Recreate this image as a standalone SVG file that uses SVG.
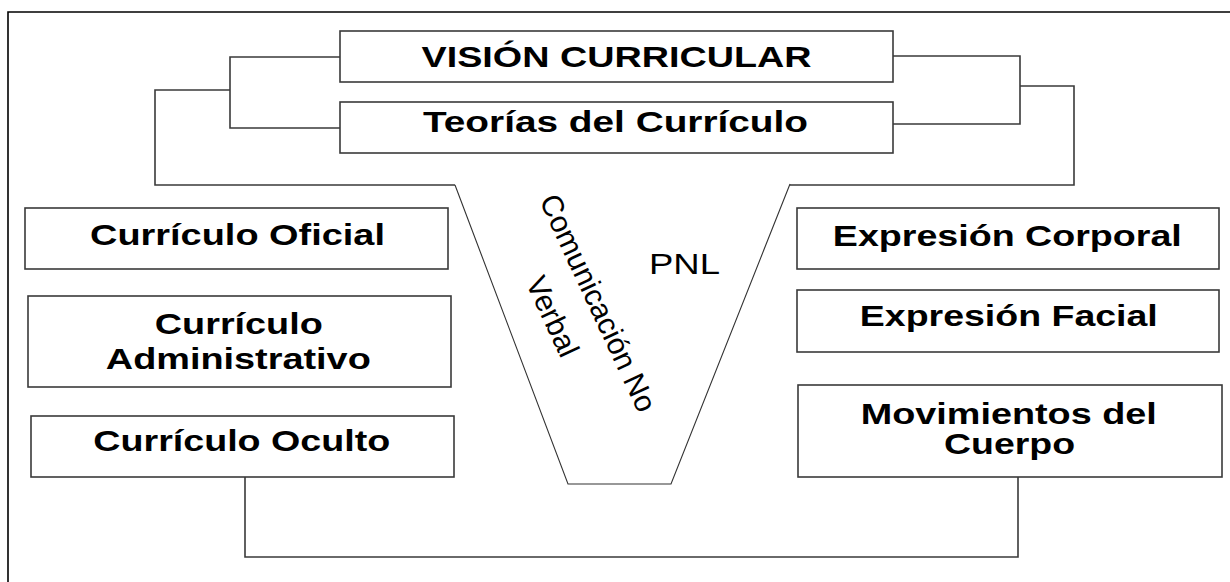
<svg xmlns="http://www.w3.org/2000/svg" width="1230" height="582" viewBox="0 0 1230 582">
<style>
.box{fill:#fff;stroke:#3a3a3a;stroke-width:1.6}
.t{font-family:"Liberation Sans",Arial,sans-serif;font-size:30px;font-weight:bold;fill:#000;text-anchor:middle}
.r{font-family:"Liberation Sans",Arial,sans-serif;font-size:30px;fill:#000;text-anchor:middle}
.c{fill:none;stroke:#3a3a3a;stroke-width:1.6}
.v{fill:none;stroke:#333;stroke-width:1.1}
</style>
<rect width="1230" height="582" fill="#fff"/>
<path d="M8,582 V12 H1230" fill="none" stroke="#000" stroke-width="1.6"/>
<g id="connectors">
<path class="c" d="M340,57 H230 V128 H340"/>
<path class="c" d="M230,90 H155 V185 H455"/>
<path class="c" d="M893,56 H1020 V124 H893"/>
<path class="c" d="M1020,86 H1074 V185 H790"/>
<path class="v" d="M455,185 L568,484 H671 L790,184"/>
<path class="c" d="M245,477 V557 H1018 V477"/>
</g>
<g id="vision">
<rect class="box" x="340" y="31" width="553" height="51"/>
<text class="t" x="616.5" y="66.5" textLength="390" lengthAdjust="spacingAndGlyphs">VISIÓN CURRICULAR</text>
</g>
<g id="teorias">
<rect class="box" x="340" y="102" width="553" height="51"/>
<text class="t" x="615.5" y="132" textLength="385" lengthAdjust="spacingAndGlyphs">Teorías del Currículo</text>
</g>
<g id="oficial">
<rect class="box" x="25" y="208" width="423" height="61"/>
<text class="t" x="237.5" y="244.5" textLength="295" lengthAdjust="spacingAndGlyphs">Currículo Oficial</text>
</g>
<g id="administrativo">
<rect class="box" x="28" y="296" width="423" height="91"/>
<text class="t" x="238.8" y="333.5" textLength="168" lengthAdjust="spacingAndGlyphs">Currículo</text>
<text class="t" x="238.3" y="368.5" textLength="265" lengthAdjust="spacingAndGlyphs">Administrativo</text>
</g>
<g id="oculto">
<rect class="box" x="31" y="416" width="423" height="61"/>
<text class="t" x="241.8" y="450.5" textLength="297" lengthAdjust="spacingAndGlyphs">Currículo Oculto</text>
</g>
<g id="corporal">
<rect class="box" x="797" y="208" width="422" height="61"/>
<text class="t" x="1007.3" y="245.5" textLength="349" lengthAdjust="spacingAndGlyphs">Expresión Corporal</text>
</g>
<g id="facial">
<rect class="box" x="797" y="290" width="422" height="62"/>
<text class="t" x="1008.8" y="325.5" textLength="298" lengthAdjust="spacingAndGlyphs">Expresión Facial</text>
</g>
<g id="movimientos">
<rect class="box" x="798" y="385" width="424" height="92"/>
<text class="t" x="1008.8" y="423.5" textLength="296" lengthAdjust="spacingAndGlyphs">Movimientos del</text>
<text class="t" x="1009.5" y="453.5" textLength="131" lengthAdjust="spacingAndGlyphs">Cuerpo</text>
</g>
<g id="pnl">
<text class="r" x="684.5" y="274" textLength="71" lengthAdjust="spacingAndGlyphs">PNL</text>
</g>
<g id="comunicacion" transform="translate(588.8,307.3) rotate(65)">
<text class="r" x="0" y="0" textLength="236" lengthAdjust="spacingAndGlyphs">Comunicación No</text>
<text class="r" x="-7" y="47">Verbal</text>
</g>
</svg>
